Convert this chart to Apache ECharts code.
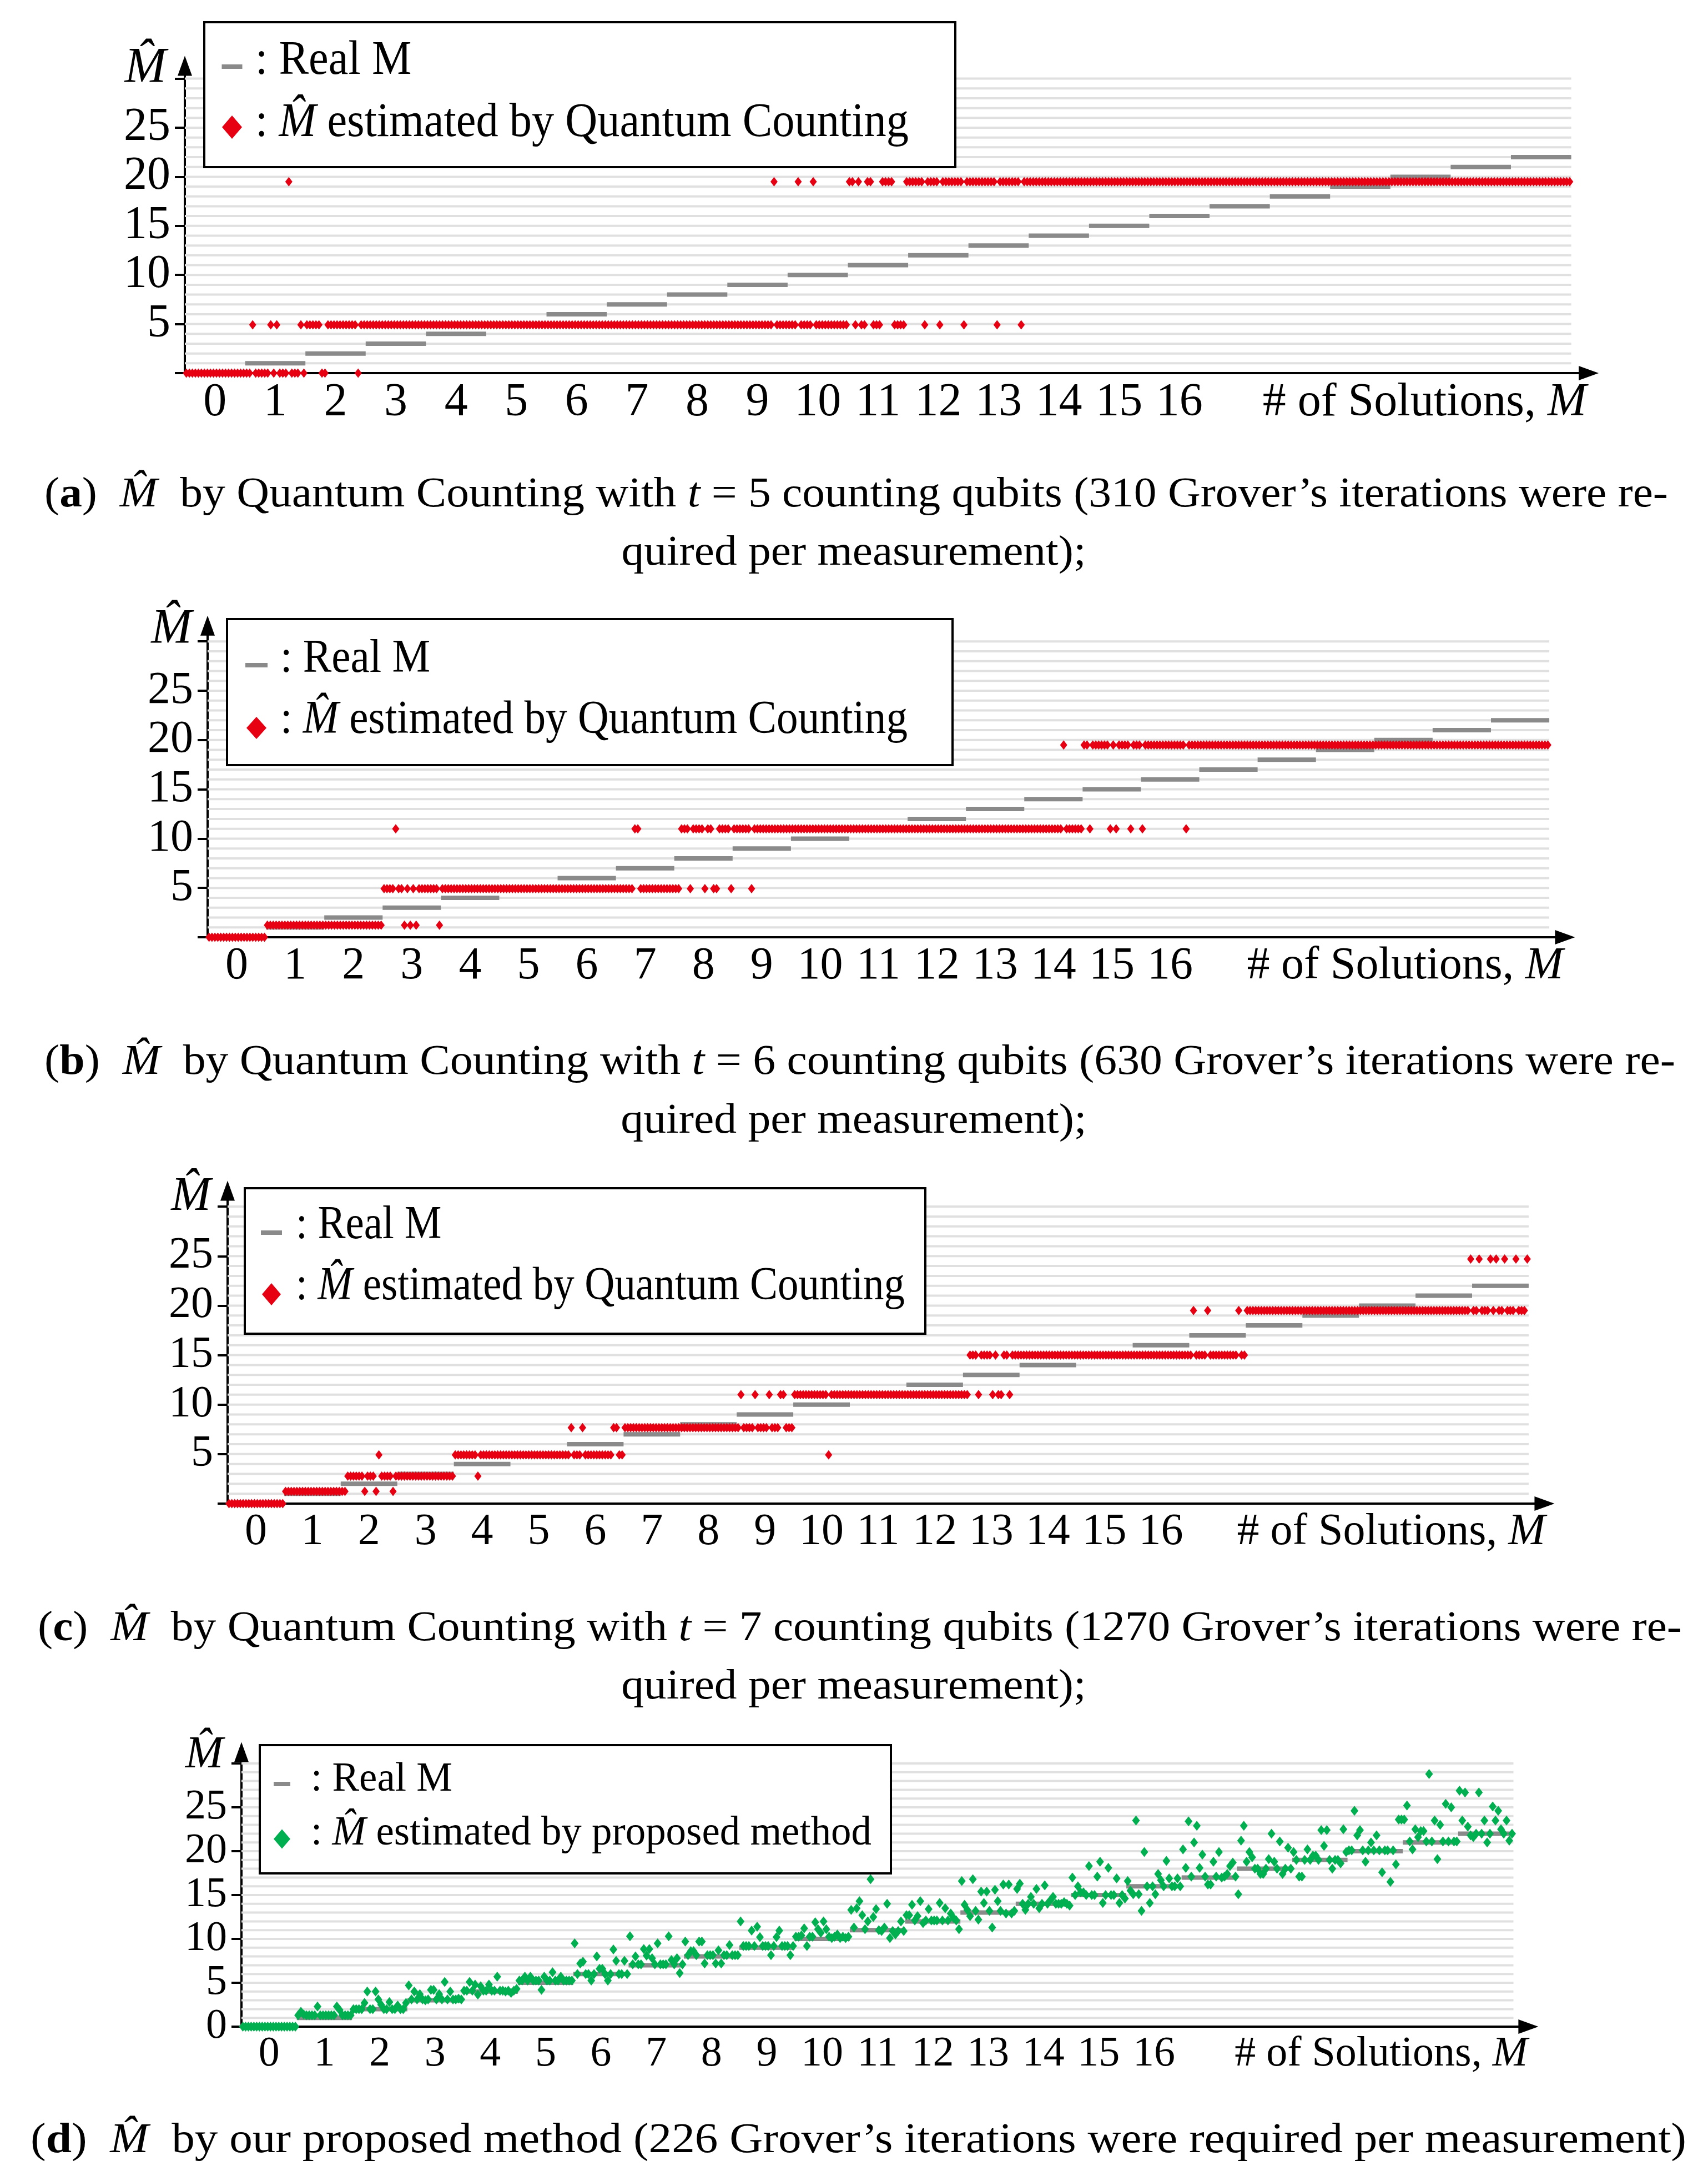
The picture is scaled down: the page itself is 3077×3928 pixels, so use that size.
<!DOCTYPE html>
<html>
<head>
<meta charset="utf-8">
<script src="https://cdn.jsdelivr.net/npm/echarts@6.0.0/dist/echarts.min.js"></script>
<style>
html,body{margin:0;padding:0;background:#fff;}
#c{width:3077px;height:3928px;}
</style>
</head>
<body>
<div id="c"></div>
<script>
// ---------------- DATA ----------------
const realM = [0,1,2,3,4,5,6,7,8,9,10,11,12,13,14,15,16,17,18,19,20,21,22];
const xTickLabels = [0,1,2,3,4,5,6,7,8,9,10,11,12,13,14,15,16];
const yTickValues = [0,5,10,15,20,25,30];
const yLabelsQC = [5,10,15,20,25];
const yLabelsProposed = [0,5,10,15,20,25];
const gridLevels = [1,2,3,4,5,6,7,8,9,10,11,12,13,14,15,16,17,18,19,20,21,22,23,24,25,26,27,28,29,30];

// repeated measurement rows (20 measurements per M)
const rowZero = [0,0,0,0,0, 0,0,0,0,0, 0,0,0,0,0, 0,0,0,0,0];
const row123 = [1.23,1.23,1.23,1.23,1.23, 1.23,1.23,1.23,1.23,1.23, 1.23,1.23,1.23,1.23,1.23, 1.23,1.23,1.23,1.23,1.23];
const row277 = [2.77,2.77,2.77,2.77,2.77, 2.77,2.77,2.77,2.77,2.77, 2.77,2.77,2.77,2.77,2.77, 2.77,2.77,2.77,2.77,2.77];
const row492 = [4.92,4.92,4.92,4.92,4.92, 4.92,4.92,4.92,4.92,4.92, 4.92,4.92,4.92,4.92,4.92, 4.92,4.92,4.92,4.92,4.92];
const row767 = [7.67,7.67,7.67,7.67,7.67, 7.67,7.67,7.67,7.67,7.67, 7.67,7.67,7.67,7.67,7.67, 7.67,7.67,7.67,7.67,7.67];
const row110 = [11.0,11.0,11.0,11.0,11.0, 11.0,11.0,11.0,11.0,11.0, 11.0,11.0,11.0,11.0,11.0, 11.0,11.0,11.0,11.0,11.0];
const row150 = [15.0,15.0,15.0,15.0,15.0, 15.0,15.0,15.0,15.0,15.0, 15.0,15.0,15.0,15.0,15.0, 15.0,15.0,15.0,15.0,15.0];
const row195 = [19.5,19.5,19.5,19.5,19.5, 19.5,19.5,19.5,19.5,19.5, 19.5,19.5,19.5,19.5,19.5, 19.5,19.5,19.5,19.5,19.5];

// (a) quantum counting, t = 5
const qcT5 = [
  rowZero,
  [0,0,4.92,0,0, 0,0,0,4.92,0, 4.92,0,0,0,19.5, 0,0,0,4.92,0],
  [4.92,4.92,4.92,4.92,4.92, 0,0,4.92,4.92,4.92, 4.92,4.92,4.92,4.92,4.92, 4.92,4.92,0,4.92,4.92],
  row492, row492, row492, row492, row492, row492,
  [4.92,4.92,4.92,4.92,4.92, 4.92,4.92,4.92,4.92,4.92, 4.92,4.92,4.92,4.92,4.92, 19.5,4.92,4.92,4.92,4.92],
  [4.92,4.92,4.92,19.5,4.92, 4.92,4.92,4.92,19.5,4.92, 4.92,4.92,4.92,4.92,4.92, 4.92,4.92,4.92,4.92,4.92],
  [19.5,19.5,4.92,19.5,4.92, 4.92,19.5,19.5,4.92,4.92, 4.92,19.5,19.5,19.5,19.5, 4.92,4.92,4.92,4.92,19.5],
  [19.5,19.5,19.5,19.5,19.5, 4.92,19.5,19.5,19.5,19.5, 4.92,19.5,19.5,19.5,19.5, 19.5,19.5,19.5,4.92,19.5],
  [19.5,19.5,19.5,19.5,19.5, 19.5,19.5,19.5,19.5,4.92, 19.5,19.5,19.5,19.5,19.5, 19.5,19.5,4.92,19.5,19.5],
  row195, row195, row195, row195, row195, row195, row195, row195, row195
];

// (b) quantum counting, t = 6
const qcT6 = [
  rowZero,
  row123,
  row123,
  [4.92,4.92,4.92,4.92,11.0, 4.92,4.92,1.23,4.92,1.23, 4.92,1.23,4.92,4.92,4.92, 4.92,4.92,4.92,4.92,1.23],
  row492, row492, row492,
  [4.92,4.92,4.92,4.92,4.92, 4.92,11.0,11.0,4.92,4.92, 4.92,4.92,4.92,4.92,4.92, 4.92,4.92,4.92,4.92,4.92],
  [4.92,4.92,11.0,11.0,11.0, 4.92,11.0,11.0,11.0,11.0, 4.92,11.0,11.0,4.92,4.92, 11.0,11.0,11.0,11.0,4.92],
  [11.0,11.0,11.0,11.0,11.0, 11.0,4.92,11.0,11.0,11.0, 11.0,11.0,11.0,11.0,11.0, 11.0,11.0,11.0,11.0,11.0],
  row110, row110, row110, row110,
  [11.0,11.0,11.0,11.0,11.0, 11.0,11.0,11.0,11.0,11.0, 11.0,11.0,11.0,19.5,11.0, 11.0,11.0,11.0,11.0,11.0],
  [19.5,19.5,11.0,19.5,19.5, 19.5,19.5,19.5,19.5,11.0, 19.5,11.0,19.5,19.5,19.5, 19.5,11.0,19.5,19.5,19.5],
  [11.0,19.5,19.5,19.5,19.5, 19.5,19.5,19.5,19.5,19.5, 19.5,19.5,19.5,19.5,19.5, 11.0,19.5,19.5,19.5,19.5],
  row195, row195, row195, row195, row195, row195
];

// (c) quantum counting, t = 7
const qcT7 = [
  rowZero,
  row123,
  [1.23,1.23,2.77,2.77,2.77, 2.77,2.77,2.77,1.23,2.77, 2.77,2.77,1.23,4.92,2.77, 2.77,2.77,2.77,1.23,2.77],
  row277,
  [4.92,4.92,4.92,4.92,4.92, 4.92,4.92,4.92,2.77,4.92, 4.92,4.92,4.92,4.92,4.92, 4.92,4.92,4.92,4.92,4.92],
  row492,
  [4.92,7.67,4.92,4.92,4.92, 7.67,4.92,4.92,4.92,4.92, 4.92,4.92,4.92,4.92,4.92, 4.92,7.67,7.67,4.92,4.92],
  row767, row767,
  [7.67,11.0,7.67,7.67,7.67, 7.67,11.0,7.67,7.67,7.67, 7.67,11.0,7.67,7.67,7.67, 11.0,11.0,7.67,7.67,7.67],
  [11.0,11.0,11.0,11.0,11.0, 11.0,11.0,11.0,11.0,11.0, 11.0,11.0,4.92,11.0,11.0, 11.0,11.0,11.0,11.0,11.0],
  row110, row110,
  [11.0,11.0,15.0,15.0,15.0, 11.0,15.0,15.0,15.0,15.0, 11.0,15.0,11.0,11.0,15.0, 15.0,11.0,15.0,15.0,15.0],
  row150, row150, row150,
  [15.0,19.5,15.0,15.0,15.0, 15.0,19.5,15.0,15.0,15.0, 15.0,15.0,15.0,15.0,15.0, 15.0,15.0,19.5,15.0,15.0],
  row195, row195, row195,
  [19.5,19.5,19.5,19.5,19.5, 19.5,19.5,19.5,19.5,19.5, 19.5,19.5,19.5,19.5,19.5, 19.5,19.5,19.5,19.5,24.7],
  [19.5,19.5,24.7,19.5,19.5, 19.5,24.7,19.5,24.7,19.5, 19.5,24.7,19.5,19.5,19.5, 24.7,19.5,19.5,19.5,24.7]
];

// (d) proposed method
const proposed = [
  rowZero,
  [1.3,1.7,1.4,1.3,1.3, 1.3,1.3,2.3,1.3,1.3, 1.3,1.3,1.3,1.3,2.3, 1.9,1.3,1.3,1.3,1.3],
  [2.0,2.0,2.0,2.0,2.7, 4.0,2.0,2.0,4.0,3.1, 2.5,2.0,2.0,2.8,2.0, 2.0,2.4,2.0,2.0,2.7],
  [4.7,3.1,4.0,3.1,3.7, 3.1,3.0,3.1,4.2,4.2, 3.1,3.7,3.1,5.1,3.1, 4.0,3.1,3.1,3.2,3.1],
  [4.1,4.1,5.1,4.1,4.8, 3.65,4.6,4.1,4.1,4.8, 4.1,4.1,5.7,4.1,4.1, 4.0,4.1,3.85,4.1,4.3],
  [5.25,5.25,5.7,5.25,5.7, 5.25,5.25,5.25,4.2,5.7, 5.25,5.25,6.2,5.25,5.25, 5.7,5.25,5.25,5.25,5.25],
  [9.5,6.0,7.2,7.4,6.0, 6.0,5.25,6.0,8.0,6.6, 6.6,6.0,5.25,6.0,8.8, 7.5,6.0,6.0,7.5,6.0],
  [10.3,7.1,8.0,7.1,7.1, 8.85,8.1,8.85,7.8,7.1, 9.5,7.1,7.1,7.1,10.3, 7.6,7.1,7.8,6.1,7.1],
  [9.7,8.15,8.6,8.6,8.15, 9.7,9.7,7.2,8.15,8.15, 8.15,7.2,8.7,7.2,8.15, 8.15,9.3,8.15,8.15,8.15],
  [12.0,9.2,9.2,9.2,10.95, 9.2,11.4,10.2,9.2,9.2, 9.2,8.15,9.2,10.2,10.95, 9.2,9.2,9.2,8.15,9.2],
  [10.25,10.25,10.4,11.2,9.2, 10.25,10.25,11.9,11.1,10.7, 12.0,11.1,10.25,10.1,10.25, 10.5,10.1,10.25,10.1,10.25],
  [13.3,11.3,13.5,14.3,12.7, 11.1,12.0,16.8,12.5,13.4, 11.0,10.9,11.3,14.0,10.1, 10.9,10.5,10.9,12.0,10.9],
  [12.7,12.7,13.9,12.1,12.6, 14.3,11.8,12.1,13.4,12.1, 12.1,12.1,14.1,12.1,13.5, 12.1,12.9,12.4,12.1,11.1],
  [16.6,13.9,13.3,12.6,16.8, 13.2,12.2,15.4,14.1,15.4, 13.2,11.3,15.6,14.3,13.2, 16.2,12.9,16.2,12.9,13.2],
  [15.7,16.3,14.0,13.3,14.0, 14.8,14.0,15.7,13.5,14.0, 16.1,14.0,14.4,14.8,14.0, 14.0,14.0,14.2,14.0,13.8],
  [17.0,15.0,16.0,15.3,15.3, 15.0,18.3,15.0,15.0,17.1, 18.8,14.1,15.0,18.1,15.0, 15.0,16.9,14.1,15.0,14.6],
  [16.6,15.5,15.1,23.5,15.1, 13.2,19.9,16.0,14.1,16.0, 15.1,17.4,16.7,16.0,18.9, 16.9,16.0,16.0,16.9,16.0],
  [20.2,18.1,23.4,17.1,21.0, 22.9,18.1,19.6,17.1,16.2, 16.2,18.8,17.1,19.9,17.0, 17.1,17.4,18.3,18.7,17.1],
  [15.1,21.2,22.9,18.8,19.9, 19.3,18.0,18.0,17.4,17.4, 18.0,19.1,22.0,18.8,18.0, 21.1,17.4,18.0,20.4,18.0],
  [19.9,19.0,17.1,17.1,19.0, 20.2,19.0,19.5,19.5,19.0, 22.4,20.6,22.4,19.0,18.0, 19.0,19.0,18.6,22.5,19.9],
  [20.1,20.1,24.6,21.8,22.4, 20.1,18.8,20.1,21.0,20.1, 21.8,20.1,17.6,20.1,20.1, 16.5,20.1,18.5,23.6,23.6],
  [23.6,25.2,21.1,20.2,22.5, 21.6,22.3,22.3,21.1,28.8, 21.1,23.5,19.1,23.0,21.1, 25.4,21.1,25.0,21.1,21.1],
  [26.9,23.5,26.7,22.8,21.8, 21.6,22.0,26.7,22.0,23.5, 21.0,22.0,25.1,23.5,24.6, 22.5,22.0,23.5,21.2,22.0]
];

// texts
const HAT_M = 'M\u0302';
const legendReal = [['r', ': Real M']];
const legendQC = [['r', ': '], ['i', HAT_M], ['r', ' estimated by Quantum Counting']];
const legendProp = [['r', ': '], ['i', HAT_M], ['r', ' estimated by proposed method']];
const xNameSegs = [['r', '# of Solutions, '], ['i', 'M']];
const captions = [
  [[['r','('],['b','a'],['r',')  '],['i',HAT_M],['r','  by Quantum Counting with '],['i','t'],['r',' = 5 counting qubits (310 Grover\u2019s iterations were re-']],
   [['r','quired per measurement);']]],
  [[['r','('],['b','b'],['r',')  '],['i',HAT_M],['r','  by Quantum Counting with '],['i','t'],['r',' = 6 counting qubits (630 Grover\u2019s iterations were re-']],
   [['r','quired per measurement);']]],
  [[['r','('],['b','c'],['r',')  '],['i',HAT_M],['r','  by Quantum Counting with '],['i','t'],['r',' = 7 counting qubits (1270 Grover\u2019s iterations were re-']],
   [['r','quired per measurement);']]],
  [[['r','('],['b','d'],['r',')  '],['i',HAT_M],['r','  by our proposed method (226 Grover\u2019s iterations were required per measurement)']]]
];

// ---------------- LAYOUT (pixels) ----------------
const FONT = '"Liberation Serif", "Times New Roman", serif';
const RED = '#e60012', GREEN = '#00b050', GRAY = '#8a8a8a', GRIDC = '#e0e0e0';
const panels = [
  { values: qcT5, color: RED, yLabels: yLabelsQC, legend2: legendQC,
    L:333, axisY:672, ux:108.59, uy:17.68, xMax:22.79, yMax:31.3, fs:84, xLblOff:54,
    lg:{x:368,y:40,w:1353,h:261,r1:110,r2:222,dashY:120,diaY:229,iconX:418,textX:460,fs:86,row2W:1177,dashW:37,dia:[36,42]},
    yName:[262,124], xName:[2858,726],
    cap:{l:80, r:3005, y1:892, y2:997} },
  { values: qcT6, color: RED, yLabels: yLabelsQC, legend2: legendQC,
    L:374, axisY:1688, ux:105.09, uy:17.76, xMax:22.77, yMax:31.6, fs:82, xLblOff:52,
    lg:{x:409,y:1115,w:1307,h:263,r1:1188,r2:1298,dashY:1198,diaY:1311,iconX:462,textX:505,fs:85,row2W:1130,dashW:40,dia:[36,40]},
    yName:[309,1134], xName:[2816,1740],
    cap:{l:80, r:3018, y1:1914, y2:2020} },
  { values: qcT7, color: RED, yLabels: yLabelsQC, legend2: legendQC,
    L:410, axisY:2708, ux:101.91, uy:17.83, xMax:22.78, yMax:31.6, fs:80, xLblOff:52,
    lg:{x:441,y:2140,w:1226,h:262,r1:2208,r2:2318,dashY:2220,diaY:2331,iconX:489,textX:533,fs:84,row2W:1097,dashW:38,dia:[34,40]},
    yName:[344,2156], xName:[2784,2760],
    cap:{l:68, r:3030, y1:2934, y2:3039} },
  { values: proposed, color: GREEN, yLabels: yLabelsProposed, legend2: legendProp,
    L:435, axisY:3650, ux:99.63, uy:15.8, xMax:22.77, yMax:31.3, fs:76, xLblOff:50,
    lg:{x:468,y:3143,w:1137,h:231,r1:3205,r2:3302,dashY:3213,diaY:3312,iconX:508,textX:560,fs:75,row2W:1010,dashW:30,dia:[30,35]},
    yName:[368,3161], xName:[2752,3700],
    cap:{l:55, r:3038, y1:3856} }
];

// ---------------- helpers ----------------
const mctx = document.createElement('canvas').getContext('2d');
function fontStr(kind, fs) {
  return (kind === 'i' ? 'italic ' : '') + (kind === 'b' ? 'bold ' : '') + fs + 'px ' + FONT;
}
function segsWidth(segs, fs) {
  let w = 0;
  for (const [k, t] of segs) { mctx.font = fontStr(k, fs); w += mctx.measureText(t).width; }
  return w;
}
function richText(segs) { return segs.map(([k, t]) => '{' + k + '|' + t + '}').join(''); }
function richStyles(fs) {
  return {
    r: { fontSize: fs, fontFamily: FONT, fill: '#000' },
    i: { fontSize: fs, fontFamily: FONT, fontStyle: 'italic', fill: '#000' },
    b: { fontSize: fs, fontFamily: FONT, fontWeight: 'bold', fill: '#000' }
  };
}
function textEl(segs, fs, x, y, align, scaleX, z) {
  return { type: 'text', x: x, y: y, scaleX: scaleX || 1, z: z || 100, silent: true,
    style: { text: richText(segs), rich: richStyles(fs), fontSize: fs, fontFamily: FONT, fill: '#000',
             align: align, verticalAlign: 'middle' } };
}
function hLineRender(color, width) {
  return function (params, api) {
    const a = api.coord([api.value(0), api.value(1)]);
    const b = api.coord([api.value(2), api.value(1)]);
    return { type: 'line', shape: { x1: a[0], y1: a[1], x2: b[0], y2: b[1] },
             style: { stroke: color, lineWidth: width } };
  };
}

// ---------------- build option ----------------
const grids = [], xAxes = [], yAxes = [], series = [], graphics = [];
const xLo = realM[0] - 0.5, xHi = realM[realM.length - 1] + 0.5;

panels.forEach((p, k) => {
  grids.push({ left: p.L, top: p.axisY - p.yMax * p.uy, width: (p.xMax + 0.5) * p.ux, height: p.yMax * p.uy });
  const axisLine = { show: true, onZero: false, symbol: ['none', 'triangle'], symbolSize: [26, 36],
                     lineStyle: { color: '#000', width: 4 } };
  xAxes.push({ gridIndex: k, type: 'value', min: -0.5, max: p.xMax,
    axisLine: axisLine, axisTick: { show: false }, splitLine: { show: false },
    axisLabel: { customValues: xTickLabels, fontSize: p.fs, fontFamily: FONT, color: '#000',
                 margin: p.xLblOff - p.fs / 2, lineHeight: p.fs } });
  yAxes.push({ gridIndex: k, type: 'value', min: 0, max: p.yMax,
    axisLine: axisLine,
    axisTick: { show: true, customValues: yTickValues, length: 18, lineStyle: { color: '#000', width: 4 } },
    splitLine: { show: false },
    axisLabel: { customValues: p.yLabels, fontSize: p.fs, fontFamily: FONT, color: '#000', margin: 26 } });

  series.push({ type: 'custom', xAxisIndex: k, yAxisIndex: k, silent: true, z: 1,
    data: gridLevels.map(v => [xLo, v, xHi]), encode: { x: [0, 2], y: 1 },
    renderItem: hLineRender(GRIDC, 4) });
  series.push({ type: 'custom', xAxisIndex: k, yAxisIndex: k, silent: true, z: 2,
    data: realM.map(m => [m - 0.5, m, m + 0.5]), encode: { x: [0, 2], y: 1 },
    renderItem: hLineRender(GRAY, 8) });
  const pts = [];
  p.values.forEach((arr, s) => {
    arr.forEach((v, i) => { pts.push([realM[s] - 0.5 + (i + 0.5) / arr.length, v]); });
  });
  series.push({ type: 'scatter', xAxisIndex: k, yAxisIndex: k, silent: true, z: 3,
    symbol: 'diamond', symbolSize: k === 3 ? [14, 18] : [13, 17],
    itemStyle: { color: p.color, opacity: 1 }, data: pts });

  // legend box
  const g = p.lg;
  graphics.push({ type: 'rect', z: 90, silent: true, shape: { x: g.x, y: g.y, width: g.w, height: g.h },
                  style: { fill: '#fff', stroke: '#000', lineWidth: 4 } });
  graphics.push({ type: 'line', z: 100, silent: true,
                  shape: { x1: g.iconX - g.dashW / 2, y1: g.dashY, x2: g.iconX + g.dashW / 2, y2: g.dashY },
                  style: { stroke: GRAY, lineWidth: 8 } });
  graphics.push({ type: 'polygon', z: 100, silent: true,
                  shape: { points: [[g.iconX, g.diaY - g.dia[1] / 2], [g.iconX + g.dia[0] / 2, g.diaY],
                                    [g.iconX, g.diaY + g.dia[1] / 2], [g.iconX - g.dia[0] / 2, g.diaY]] },
                  style: { fill: p.color } });
  const lsx = g.row2W / segsWidth(p.legend2, g.fs);
  graphics.push(textEl(legendReal, g.fs, g.textX, g.r1, 'left', lsx));
  graphics.push(textEl(p.legend2, g.fs, g.textX, g.r2, 'left', lsx));

  // axis names
  graphics.push(textEl([['i', HAT_M]], p.fs + 6, p.yName[0], p.yName[1], 'center', 1));
  graphics.push(textEl(xNameSegs, p.fs, p.xName[0], p.xName[1], 'right', 1));

  // caption
  const c = captions[k], cfs = 76;
  const csx = (p.cap.r - p.cap.l) / segsWidth(c[0], cfs);
  graphics.push(textEl(c[0], cfs, p.cap.l, p.cap.y1, 'left', csx));
  if (c[1]) graphics.push(textEl(c[1], cfs, 1538, p.cap.y2, 'center', csx));
});

const chart = echarts.init(document.getElementById('c'), null, { renderer: 'canvas', width: 3077, height: 3928 });
chart.setOption({
  animation: false,
  backgroundColor: '#fff',
  grid: grids,
  xAxis: xAxes,
  yAxis: yAxes,
  series: series,
  graphic: { elements: graphics }
});
</script>
</body>
</html>
